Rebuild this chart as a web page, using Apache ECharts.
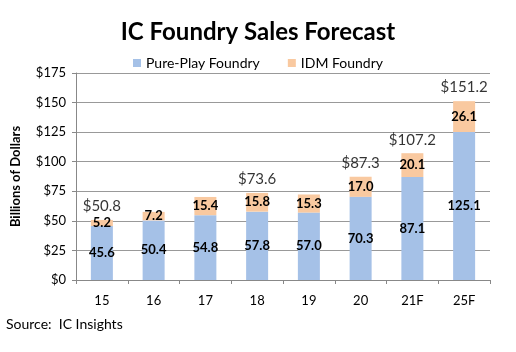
<!DOCTYPE html>
<html>
<head>
<meta charset="utf-8">
<script src="https://cdn.jsdelivr.net/npm/echarts@6/dist/echarts.min.js"></script>
<style>
  html, body { margin: 0; padding: 0; background: #fff; }
  #chart { width: 516px; height: 352px; }
</style>
</head>
<body>
<div id="chart"></div>
<script>
var years = ['15', '16', '17', '18', '19', '20', '21F', '25F'];
var purePlay = [45.6, 50.4, 54.8, 57.8, 57.0, 70.3, 87.1, 125.1];
var idm = [5.2, 7.2, 15.4, 15.8, 15.3, 17.0, 20.1, 26.1];
// totals printed above some bars only
var totals = [50.8, null, null, 73.6, null, 87.3, 107.2, 151.2];

var font = 'Lato';

var chart = echarts.init(document.getElementById('chart'));
chart.setOption({
  animation: false,
  title: {
    text: 'IC Foundry Sales Forecast',
    left: 'center',
    top: 15,
    textStyle: { fontFamily: font, fontSize: 24, fontWeight: 'bold', color: '#000' }
  },
  legend: {
    top: 51,
    left: 'center',
    itemWidth: 8,
    itemHeight: 8,
    itemGap: 28,
    icon: 'rect',
    textStyle: { fontFamily: font, fontSize: 14, color: '#000' },
    data: ['Pure-Play Foundry', 'IDM Foundry']
  },
  graphic: [{
    type: 'text',
    left: 6,
    top: 317,
    style: { text: 'Source:  IC Insights', font: '14px ' + font, fill: '#000' }
  }],
  grid: { left: 76, right: 26, top: 73, bottom: 72 },
  xAxis: {
    type: 'category',
    data: years,
    axisLine: { lineStyle: { color: '#888' } },
    axisTick: { show: true, length: 4, lineStyle: { color: '#888' } },
    axisLabel: { fontFamily: font, fontSize: 13, color: '#000', margin: 14 }
  },
  yAxis: {
    type: 'value',
    min: 0,
    max: 175,
    interval: 25,
    name: 'Billions of Dollars',
    nameLocation: 'middle',
    nameGap: 54,
    nameTextStyle: { fontFamily: font, fontSize: 13, fontWeight: 'bold', color: '#000' },
    axisLine: { show: true, lineStyle: { color: '#888' } },
    axisTick: { show: true, length: 4, lineStyle: { color: '#888' } },
    splitLine: { lineStyle: { color: '#999', width: 1 } },
    axisLabel: { fontFamily: font, fontSize: 13, color: '#000', margin: 10, formatter: '${value}' }
  },
  series: [
    {
      name: 'Pure-Play Foundry',
      type: 'bar',
      stack: 'total',
      barWidth: 22,
      itemStyle: { color: '#A5C1E7' },
      label: {
        show: true, position: 'inside', formatter: function (p) { return p.value.toFixed(1); },
        fontFamily: font, fontSize: 13, fontWeight: 'bold', color: '#000'
      },
      data: purePlay
    },
    {
      name: 'IDM Foundry',
      type: 'bar',
      stack: 'total',
      barWidth: 22,
      itemStyle: { color: '#F9C9A0' },
      label: {
        show: true, position: 'inside', formatter: function (p) { return p.value.toFixed(1); },
        fontFamily: font, fontSize: 13, fontWeight: 'bold', color: '#000'
      },
      data: idm
    },
    {
      name: 'Total',
      type: 'scatter',
      symbolSize: 0,
      label: {
        show: true, position: 'top', distance: 6,
        formatter: function (p) { return '$' + p.value[1].toFixed(1); },
        fontFamily: font, fontSize: 15, color: '#000'
      },
      data: totals.map(function (t, i) { return t == null ? [i, '-'] : [i, t]; })
    }
  ]
});
</script>
</body>
</html>
